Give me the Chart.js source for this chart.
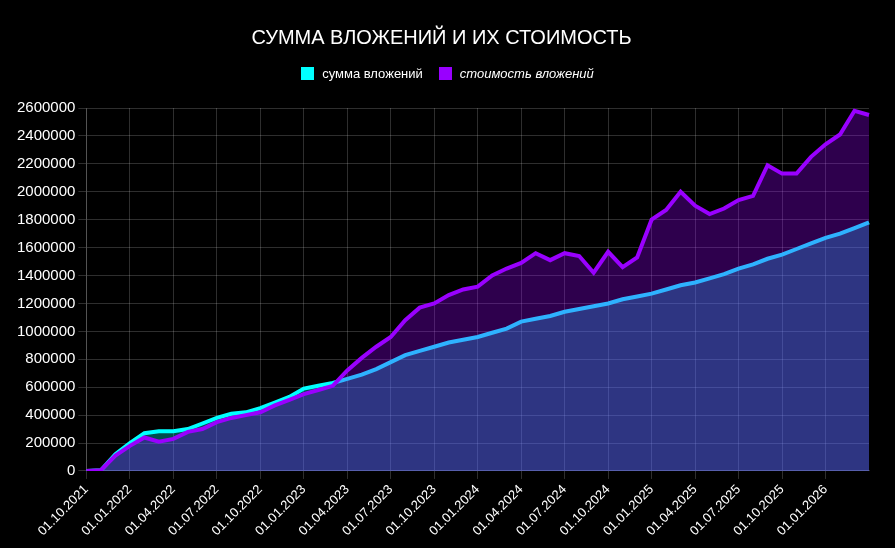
<!DOCTYPE html>
<html><head><meta charset="utf-8">
<script src="https://cdn.jsdelivr.net/npm/chart.js@4.4.1/dist/chart.umd.min.js"></script>
<style>
html,body{margin:0;padding:0;background:#000;width:895px;height:548px;overflow:hidden;font-family:"Liberation Sans",Arial,sans-serif;}
#wrap{position:absolute;left:0;top:0;width:895px;height:548px;}
#legend{position:absolute;top:66px;left:0;width:895px;text-align:center;color:#fff;font-size:13px;}
#legend span.it{display:inline-flex;align-items:center;margin:0 8px;}
#legend i.box{display:inline-block;width:13px;height:13px;margin-right:8px;}
</style></head>
<body>
<div id="wrap"><canvas id="c" width="895" height="548"></canvas></div>
<div id="legend"><span class="it"><i class="box" style="background:#00ffff"></i>сумма вложений</span><span class="it"><i class="box" style="background:#9900ff"></i><em>стоимость вложений</em></span></div>
<script>
const categories = [];
(function(){let y=2021,m=10;for(let i=0;i<55;i++){categories.push('01.'+String(m).padStart(2,'0')+'.'+y);m++;if(m>12){m=1;y++;}}})();
const sumInvested = [0,5000,120000,200000,270000,285000,285000,300000,340000,380000,410000,420000,450000,490000,530000,590000,610000,630000,660000,690000,730000,780000,830000,860000,890000,920000,940000,960000,990000,1020000,1070000,1090000,1110000,1140000,1160000,1180000,1200000,1230000,1250000,1270000,1300000,1330000,1350000,1380000,1410000,1450000,1480000,1520000,1550000,1590000,1630000,1670000,1700000,1740000,1780000];
const valueInvested = [0,5000,110000,180000,240000,210000,230000,280000,300000,350000,380000,400000,420000,470000,510000,550000,580000,610000,720000,810000,890000,960000,1080000,1170000,1200000,1260000,1300000,1320000,1400000,1450000,1490000,1560000,1510000,1560000,1540000,1420000,1570000,1460000,1530000,1800000,1870000,2000000,1900000,1840000,1880000,1940000,1970000,2190000,2130000,2130000,2250000,2340000,2410000,2580000,2550000];
const seriesNames = ['сумма вложений','стоимость вложений'];
const grid = 'rgba(255,255,255,0.18)';
new Chart(document.getElementById('c'),{
  type:'line',
  data:{labels:categories,datasets:[
    {label:seriesNames[0],data:sumInvested,borderColor:'#00ffff',backgroundColor:'rgba(0,255,255,0.3)',fill:'origin',borderWidth:4,pointRadius:0,tension:0,order:2},
    {label:seriesNames[1],data:valueInvested,borderColor:'#9900ff',backgroundColor:'rgba(153,0,255,0.3)',fill:'origin',borderWidth:4,pointRadius:0,tension:0,order:1}
  ]},
  options:{
    responsive:false,animation:false,
    layout:{padding:{left:14,right:26,top:0,bottom:6}},
    plugins:{
      legend:{display:false},
      tooltip:{enabled:false},
      title:{display:true,text:'СУММА ВЛОЖЕНИЙ И ИХ СТОИМОСТЬ',color:'#fff',font:{family:'"Liberation Sans", Arial',size:20,weight:'normal'},padding:{top:26,bottom:58}}
    },
    scales:{
      x:{grid:{color:grid},border:{color:grid},
        ticks:{color:'#fff',font:{family:'"Liberation Sans", Arial',size:13},maxRotation:45,minRotation:45,autoSkip:false,
          callback:function(v,i){return (i%3===0 && i<54)?categories[i]:null;}}},
      y:{min:0,max:2600000,grid:{color:grid},border:{color:grid},
        ticks:{color:'#fff',stepSize:200000,font:{family:'"Liberation Sans", Arial',size:15},callback:function(v){return String(v);}}}
    }
  }
});
</script>
</body></html>
